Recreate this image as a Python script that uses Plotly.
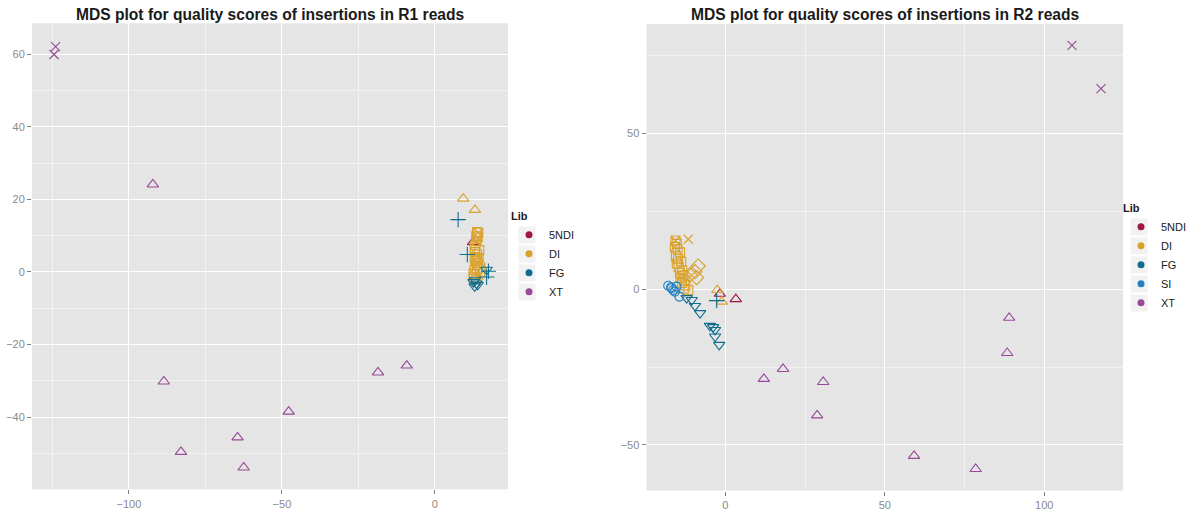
import plotly.graph_objects as go

# ---------------- data: R1 panel ----------------
r1_lib = (["XT"] * 10 + ["5NDI"] +
          ["DI"] * 27 + ["FG"] * 10)
r1_shape = (["x"] * 2 + ["tri"] * 8 + ["tri"] +
            ["tri"] * 2 + ["sqx"] * 3 + ["sq"] * 14 + ["dia"] * 2 + ["x"] * 2 + ["sq"] * 4 +
            ["plus"] * 4 + ["tridown"] * 6)
r1_x = [-124.0, -124.5, -92.2, -88.6, -83.0, -64.5, -62.5, -47.8, -18.6, -9.2,
        12.5,
        9.3, 13.1, 14.2, 14.0, 13.6,
        13.8, 13.5, 13.3, 13.0, 13.2, 13.8, 13.0, 13.5, 14.0, 13.2, 13.8, 13.0, 14.3, 14.5,
        14.2, 14.6, 13.0, 14.5, 12.8, 13.5, 14.8, 12.6,
        7.6, 10.6, 16.9, 17.5,
        16.9, 13.1, 13.6, 13.0, 14.0, 12.6]
r1_y = [62.1, 59.9, 24.1, -30.2, -49.6, -45.6, -53.9, -38.5, -27.7, -25.8,
        8.2,
        20.2, 17.1, 10.8, 9.5, 8.5,
        11.0, 9.8, 7.5, 6.5, 5.5, 4.8, 4.0, 3.2, 2.5, 1.8, 1.0, 0.5, 3.8, 6.0,
        2.2, 1.0, -0.8, -1.0, -1.5, -2.0, 0.0, -0.5,
        14.4, 4.8, -1.4, 0.2,
        0.6, -2.3, -3.2, -4.0, -3.6, -2.8]

# ---------------- data: R2 panel ----------------
r2_lib = (["XT"] * 10 + ["5NDI"] * 2 + ["DI"] * 26 + ["FG"] * 10 + ["SI"] * 7)
r2_shape = (["x"] * 2 + ["tri"] * 8 + ["tri"] * 2 +
            ["sqx"] * 2 + ["x"] + ["sq"] * 17 + ["dia"] * 4 + ["tri"] * 2 +
            ["plus"] + ["tridown"] * 9 + ["circle"] * 7)
r2_x = [108.7, 117.8, 12.1, 18.1, 30.7, 28.8, 59.2, 78.5, 89.0, 88.4,
        -1.7, 3.3,
        -15.6, -15.8, -11.6,
        -15.0, -14.2, -15.5, -14.8, -15.2, -13.8, -14.6, -13.5, -14.2, -13.2, -14.0, -12.8,
        -13.6, -12.5, -11.6, -13.0, -15.2,
        -8.5, -9.5, -9.0, -11.1,
        -2.5, -1.1,
        -2.7,
        -12.1, -10.5, -9.5, -7.9, -4.8, -3.8, -3.2, -3.2, -1.9,
        -17.9, -16.8, -16.3, -15.3, -14.4, -15.8, -17.0]
r2_y = [78.2, 64.3, -28.8, -25.6, -29.8, -40.5, -53.5, -57.7, -9.2, -20.5,
        -1.5, -3.2,
        15.6, 13.5, 16.0,
        12.8, 11.8, 10.5, 9.6, 8.2, 8.8, 7.0, 6.0, 5.2, 4.4, 3.6, 2.8,
        2.0, 1.2, -0.3, 0.2, 14.5,
        7.4, 5.6, 3.7, 4.6,
        -0.3, -4.0,
        -3.7,
        -2.9, -3.5, -5.4, -7.7, -11.8, -12.2, -13.1, -15.2, -17.9,
        1.1, 0.3, -0.3, 0.8, -2.4, -0.8, 0.6]

r1_levels = ["5NDI", "DI", "FG", "XT"]
r2_levels = ["5NDI", "DI", "FG", "SI", "XT"]

lib_colors = {"5NDI": "#A0173F", "DI": "#D9A22C", "FG": "#0F6E90",
              "SI": "#2082C4", "XT": "#964A98"}
symbols = {"x": "x-thin-open", "tri": "triangle-up-open", "tridown": "triangle-down-open",
           "sq": "square-open", "sqx": "square-x-open", "dia": "diamond-open",
           "plus": "cross-thin-open", "circle": "circle-open"}
sizes = {"x": 9, "tri": 10, "tridown": 10, "sq": 9, "sqx": 9, "dia": 11,
         "plus": 11, "circle": 9}

fig = go.Figure()


def add_panel(libs, shapes, xs, ys, levels, xa, ya, legend):
    for lib in levels:
        for shp in symbols:
            px = [x for l, s, x in zip(libs, shapes, xs) if l == lib and s == shp]
            py = [y for l, s, y in zip(libs, shapes, ys) if l == lib and s == shp]
            if not px:
                continue
            fig.add_trace(go.Scatter(
                x=px, y=py, mode="markers", xaxis=xa, yaxis=ya, showlegend=False,
                marker=dict(symbol=symbols[shp], size=sizes[shp], color=lib_colors[lib],
                            line=dict(width=1.1, color=lib_colors[lib]))))
    for lib in levels:
        fig.add_trace(go.Scatter(
            x=[None], y=[None], mode="markers", xaxis=xa, yaxis=ya, name=lib,
            legend=legend, showlegend=True,
            marker=dict(symbol="circle", size=7, color=lib_colors[lib])))


add_panel(r1_lib, r1_shape, r1_x, r1_y, r1_levels, "x", "y", "legend")
add_panel(r2_lib, r2_shape, r2_x, r2_y, r2_levels, "x2", "y2", "legend2")

W, H = 1190, 511
axis_common = dict(showline=False, zeroline=False, ticks="outside", ticklen=4,
                   tickcolor="#7F7F7F", tickwidth=1, automargin=False,
                   tickfont=dict(family="Liberation Sans, Arial", size=11, color="#8A8A8A"),
                   showgrid=True, gridcolor="#FFFFFF", gridwidth=1.3)

LEG1_X, LEG1_TOP = 509, 206
LEG2_X, LEG2_TOP = 1121, 198

fig.update_layout(
    width=W, height=H,
    margin=dict(l=0, r=0, t=0, b=0, autoexpand=False),
    paper_bgcolor="white", plot_bgcolor="#E5E5E5",
    font=dict(family="Liberation Sans, Arial", color="#1A1A1A"),
    xaxis=dict(domain=[32 / W, 508 / W], range=[-131.7, 23.9], tickvals=[-100, -50, 0],
               ticktext=["\u2212100", "\u221250", "0"],
               minor=dict(tickvals=[-125, -75, -25], showgrid=True, gridcolor="#F2F2F2",
                          gridwidth=0.7, ticks=""),
               anchor="y", **axis_common),
    yaxis=dict(domain=[1 - 489.3 / H, 1 - 23.3 / H], range=[-59.9, 68.5],
               tickvals=[-40, -20, 0, 20, 40, 60],
               ticktext=["\u221240", "\u221220", "0", "20", "40", "60"],
               minor=dict(tickvals=[-50, -30, -10, 10, 30, 50], showgrid=True,
                          gridcolor="#F2F2F2", gridwidth=0.7, ticks=""),
               anchor="x", **axis_common),
    xaxis2=dict(domain=[646.5 / W, 1123 / W], range=[-24.7, 124.7], tickvals=[0, 50, 100],
                minor=dict(tickvals=[25, 75], showgrid=True, gridcolor="#F2F2F2",
                           gridwidth=0.7, ticks=""),
                anchor="y2", **axis_common),
    yaxis2=dict(domain=[1 - 490.5 / H, 1 - 24 / H], range=[-64.6, 85.05],
                tickvals=[-50, 0, 50], ticktext=["\u221250", "0", "50"],
                minor=dict(tickvals=[-25, 25, 75], showgrid=True, gridcolor="#F2F2F2",
                           gridwidth=0.7, ticks=""),
                anchor="x2", **axis_common),
    legend=dict(x=LEG1_X / W, y=1 - LEG1_TOP / H, xanchor="left", yanchor="top",
                title=dict(text="<b>Lib</b>", font=dict(size=11)),
                font=dict(size=11, color="#1A1A1A"), bgcolor="rgba(0,0,0,0)",
                itemwidth=30),
    legend2=dict(x=LEG2_X / W, y=1 - LEG2_TOP / H, xanchor="left", yanchor="top",
                 title=dict(text="<b>Lib</b>", font=dict(size=11)),
                 font=dict(size=11, color="#1A1A1A"), bgcolor="rgba(0,0,0,0)",
                 itemwidth=30),
)

# light grey key backgrounds behind legend symbols
for lx, top, n in [(LEG1_X, LEG1_TOP, len(r1_levels)), (LEG2_X, LEG2_TOP, len(r2_levels))]:
    for i in range(n):
        cx = lx + 18
        cy = top + 29 + 19 * i
        fig.add_shape(type="rect", xref="paper", yref="paper",
                      x0=(cx - 8.5) / W, x1=(cx + 8.5) / W,
                      y0=1 - (cy + 8.5) / H, y1=1 - (cy - 8.5) / H,
                      fillcolor="#F2F2F2", line=dict(width=0), layer="below")

title_font = dict(family="Liberation Sans, Arial", size=15.6, color="#1A1A1A")
fig.add_annotation(text="<b>MDS plot for quality scores of insertions in R1 reads</b>",
                   x=270 / W, y=1 - 14 / H, xref="paper", yref="paper",
                   xanchor="center", yanchor="middle", showarrow=False, font=title_font)
fig.add_annotation(text="<b>MDS plot for quality scores of insertions in R2 reads</b>",
                   x=885 / W, y=1 - 14 / H, xref="paper", yref="paper",
                   xanchor="center", yanchor="middle", showarrow=False, font=title_font)

fig.write_html("out.html", config={"displayModeBar": False},
               post_script="document.body.style.margin='0';document.body.style.overflow='hidden';")
